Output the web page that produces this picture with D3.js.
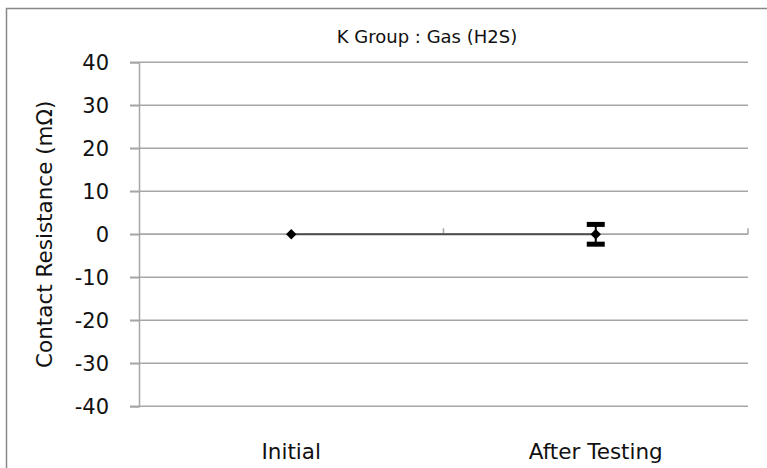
<!DOCTYPE html>
<html><head><meta charset="utf-8">
<script src="https://cdn.jsdelivr.net/npm/d3@7"></script>
<style>
html,body{margin:0;padding:0;background:#fff;}
svg{display:block;font-family:"DejaVu Sans",Verdana,sans-serif;}
</style></head>
<body>
<svg id="chart" width="767" height="468"></svg>
<script>
const categories = ["Initial", "After Testing"];
const values = [0, 0];
const errors = [0, 2.3];
const yTicks = [-40, -30, -20, -10, 0, 10, 20, 30, 40];
const titleText = "K Group : Gas (H2S)";
const yLabel = "Contact Resistance (mΩ)";

const svg = d3.select("#chart");
const plot = {left: 139, right: 748, top: 62.3, bottom: 406.3};

svg.append("rect").attr("x", 6.5).attr("y", 8.5).attr("width", 900).attr("height", 900)
  .attr("fill", "#fff").attr("stroke", "#888").attr("stroke-width", 1.5);

const x = d3.scaleBand().domain(categories).range([plot.left, plot.right]).padding(0);
const y = d3.scaleLinear().domain([-40, 40]).range([plot.bottom, plot.top]);

// gridlines
svg.append("g").selectAll("line").data(yTicks).join("line")
  .attr("x1", plot.left - 9).attr("x2", plot.right)
  .attr("y1", d => y(d)).attr("y2", d => y(d))
  .attr("stroke", "#a6a6a6").attr("stroke-width", 1.5);

// y axis
const yAxis = svg.append("g").attr("transform", `translate(${plot.left},0)`)
  .call(d3.axisLeft(y).tickValues(yTicks).tickFormat(d => String(d)).tickSize(9).tickPadding(21));
yAxis.select(".domain").attr("stroke", "#a6a6a6").attr("stroke-width", 1.5);
yAxis.selectAll(".tick line").attr("stroke", "#a6a6a6").attr("stroke-width", 1.5);
yAxis.selectAll(".tick text").attr("font-size", 21).attr("fill", "#111")
  .attr("font-family", "DejaVu Sans, Verdana, sans-serif");

// x axis at zero
const xAxis = svg.append("g").attr("transform", `translate(0,${y(0)})`);
xAxis.append("line").attr("x1", plot.left).attr("x2", plot.right)
  .attr("stroke", "#a6a6a6").attr("stroke-width", 1.5);
const bounds = categories.map(c => x(c) + x.bandwidth());
xAxis.selectAll("line.tk").data(bounds).join("line").attr("class", "tk")
  .attr("x1", d => d).attr("x2", d => d).attr("y1", 0).attr("y2", -6)
  .attr("stroke", "#a6a6a6").attr("stroke-width", 1.5);

// x labels
svg.append("g").selectAll("text").data(categories).join("text")
  .attr("x", d => x(d) + x.bandwidth() / 2).attr("y", 459)
  .attr("text-anchor", "middle").attr("font-size", 21.5).attr("fill", "#111")
  .text(d => d);

// title
svg.append("text").attr("x", 427).attr("y", 43).attr("text-anchor", "middle")
  .attr("font-size", 18).attr("fill", "#111").text(titleText);

// y label
svg.append("text").attr("transform", `translate(52,${y(0)}) rotate(-90)`)
  .attr("text-anchor", "middle").attr("font-size", 21.5).attr("fill", "#111").text(yLabel);

// series line
const line = d3.line().x((d, i) => x(categories[i]) + x.bandwidth() / 2).y(d => y(d));
svg.append("path").datum(values).attr("d", line).attr("fill", "none")
  .attr("stroke", "#4d4d4d").attr("stroke-width", 2);

// error bars
const eb = svg.append("g");
values.forEach((v, i) => {
  if (!errors[i]) return;
  const cx = x(categories[i]) + x.bandwidth() / 2;
  eb.append("line").attr("x1", cx).attr("x2", cx).attr("y1", y(v + errors[i])).attr("y2", y(v - errors[i]))
    .attr("stroke", "#000").attr("stroke-width", 2);
  [v + errors[i], v - errors[i]].forEach(e => {
    eb.append("line").attr("x1", cx - 9).attr("x2", cx + 9).attr("y1", y(e)).attr("y2", y(e))
      .attr("stroke", "#000").attr("stroke-width", 5);
  });
});

// markers
svg.append("g").selectAll("path").data(values).join("path")
  .attr("transform", (d, i) => `translate(${x(categories[i]) + x.bandwidth() / 2},${y(d)})`)
  .attr("d", d3.symbol().type(d3.symbolDiamond2).size(70))
  .attr("fill", "#000");
</script>
</body></html>
